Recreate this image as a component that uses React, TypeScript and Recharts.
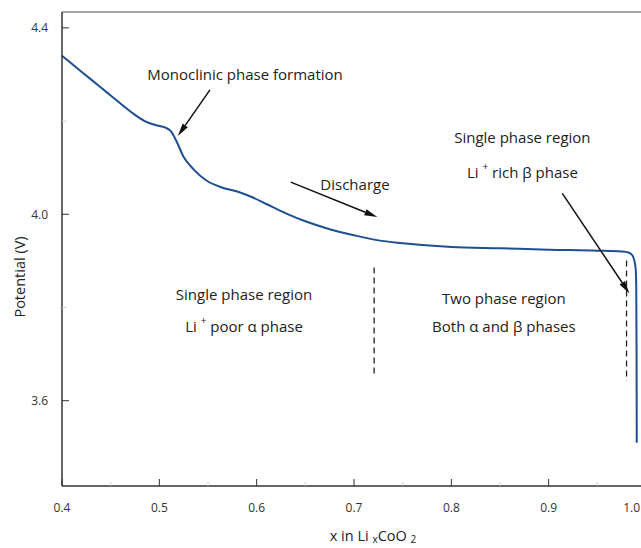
import { LineChart, Line, XAxis, YAxis, ReferenceLine, ReferenceDot } from 'recharts';

// x in LixCoO2 and measured potential (V)
const xValues = [
  0.4, 0.42, 0.44, 0.45, 0.47, 0.485, 0.495, 0.505, 0.512, 0.518, 0.525, 0.535, 0.548,
  0.565, 0.58, 0.595, 0.61, 0.63, 0.65, 0.675, 0.7, 0.725, 0.75, 0.8, 0.85, 0.9, 0.95,
  0.975, 0.982, 0.986, 0.988, 0.9895, 0.99, 0.9903, 0.9905,
];
const potential = [
  4.34, 4.306, 4.272, 4.255, 4.221, 4.2, 4.192, 4.187, 4.178, 4.155, 4.123, 4.097, 4.073,
  4.057, 4.049, 4.037, 4.022, 4.002, 3.985, 3.968, 3.955, 3.944, 3.938, 3.93, 3.927, 3.924, 3.922,
  3.92, 3.918, 3.912, 3.901, 3.88, 3.837, 3.708, 3.51,
];

const xMajor = [0.4, 0.5, 0.6, 0.7, 0.8, 0.9, 1.0];
const xMinor = [0.45, 0.55, 0.65, 0.75, 0.85, 0.95];
const yMajor = [3.6, 4.0, 4.4];
const yMinor = [3.8, 4.2];

const curve = xValues.map((x, i) => ({ x, v: potential[i] }));

const FONT = '"Open Sans", sans-serif';
const yDomain: [number, number] = [3.417, 4.434];

function XTick(props: any) {
  const { x, y, payload } = props;
  const v = payload.value;
  const major = xMajor.includes(v);
  const last = v === xMajor[xMajor.length - 1];
  return (
    <g>
      <line x1={x} x2={x} y1={y} y2={y - (major ? 7 : 4)} stroke={major ? '#333' : '#ccc'} />
      {major && (
        <text x={last ? x - 6 : x} y={y + 21} textAnchor={last ? 'end' : 'middle'} dominantBaseline="central"
          fontFamily={FONT} fontSize={12} fill="#333">
          {v.toFixed(1)}
        </text>
      )}
    </g>
  );
}

function YTick(props: any) {
  const { x, y, payload } = props;
  const v = payload.value;
  const major = yMajor.includes(v);
  return (
    <g>
      <line x1={x} x2={x + (major ? 7 : 4)} y1={y} y2={y} stroke={major ? '#333' : '#ccc'} />
      {major && (
        <text x={x - 14} y={y} textAnchor="end" dominantBaseline="central" fontFamily={FONT} fontSize={12} fill="#333">
          {v.toFixed(1)}
        </text>
      )}
    </g>
  );
}

function Arrow(props: any) {
  const { x1, y1, x2, y2 } = props;
  const ang = Math.atan2(y2 - y1, x2 - x1);
  const L = 13;
  const W = 3.2;
  const bx = x2 - L * Math.cos(ang);
  const by = y2 - L * Math.sin(ang);
  const nx = -Math.sin(ang) * W;
  const ny = Math.cos(ang) * W;
  return (
    <g>
      <line x1={x1} y1={y1} x2={bx} y2={by} stroke="#111" strokeWidth={1.5} />
      <polygon points={`${x2},${y2} ${bx + nx},${by + ny} ${bx - nx},${by - ny}`} fill="#111" />
    </g>
  );
}

const sup = (s: string) => (
  <>
    <tspan dy={-6} fontSize={10}>{s}</tspan>
    <tspan dy={6}> </tspan>
  </>
);

const note = (content: any) => (p: any) => (
  <text x={p.cx} y={p.cy} textAnchor="middle" dominantBaseline="central" fontFamily={FONT} fontSize={15} fill="#222">
    {content}
  </text>
);

const dashed = { stroke: '#222', strokeWidth: 1.3, strokeDasharray: '6 4' };

export default function App() {
  return (
    <div style={{ position: 'fixed', top: 0, left: 0, width: 641, height: 548, overflow: 'hidden', background: '#fff' }}>
      <LineChart width={660} height={548} data={curve} margin={{ top: 12, right: 14, bottom: 0, left: 0 }}>
        <XAxis
          dataKey="x"
          type="number"
          domain={[0.4, 1.0]}
          ticks={[...xMajor, ...xMinor].sort((a, b) => a - b)}
          interval={0}
          tick={<XTick />}
          tickLine={false}
          tickSize={0}
          tickMargin={0}
          height={62}
          axisLine={{ stroke: '#333', strokeWidth: 1.5 }}
          label={{
            content: (p: any) => {
              const vb = p.viewBox;
              return (
                <text x={vb.x + vb.width / 2 + 19} y={vb.y + 49} textAnchor="middle" dominantBaseline="central"
                  fontFamily={FONT} fontSize={14.5} fill="#222">
                  x in Li <tspan dy={4} fontSize={10}>x</tspan><tspan dy={-4}>CoO </tspan><tspan dy={4} fontSize={10}>2</tspan>
                </text>
              );
            },
          }}
        />
        <YAxis
          type="number"
          domain={yDomain}
          ticks={[...yMajor, ...yMinor].sort((a, b) => a - b)}
          interval={0}
          tick={<YTick />}
          tickLine={false}
          tickSize={0}
          tickMargin={0}
          width={62}
          axisLine={{ stroke: '#333', strokeWidth: 1.5 }}
          label={{
            content: (p: any) => {
              const vb = p.viewBox;
              const cx = 19;
              const cy = vb.y + vb.height / 2 + 28;
              return (
                <text x={cx} y={cy} transform={`rotate(-90 ${cx} ${cy})`} textAnchor="middle" dominantBaseline="central"
                  fontFamily={FONT} fontSize={14.5} fill="#222">
                  Potential (V)
                </text>
              );
            },
          }}
        />
        <ReferenceLine y={yDomain[1]} stroke="#888" strokeWidth={1.5} ifOverflow="visible" />

        <ReferenceLine segment={[{ x: 0.7207, y: 3.886 }, { x: 0.7207, y: 3.658 }]} {...dashed} ifOverflow="visible" />
        <ReferenceLine segment={[{ x: 0.98, y: 3.901 }, { x: 0.98, y: 3.643 }]} {...dashed} ifOverflow="visible" />

        <Line type="monotone" dataKey="v" stroke="#1d4f91" strokeWidth={2} dot={false} isAnimationActive={false} />

        <ReferenceLine segment={[{ x: 0.552, y: 4.267 }, { x: 0.519, y: 4.168 }]} shape={Arrow} ifOverflow="visible" />
        <ReferenceLine segment={[{ x: 0.635, y: 4.069 }, { x: 0.724, y: 3.994 }]} shape={Arrow} ifOverflow="visible" />
        <ReferenceLine segment={[{ x: 0.914, y: 4.045 }, { x: 0.983, y: 3.83 }]} shape={Arrow} ifOverflow="visible" />

        <ReferenceDot x={0.588} y={4.301} r={0} shape={note('Monoclinic phase formation')} />
        <ReferenceDot x={0.701} y={4.064} r={0} shape={note('Discharge')} />
        <ReferenceDot x={0.873} y={4.166} r={0} shape={note('Single phase region')} />
        <ReferenceDot x={0.873} y={4.09} r={0} shape={note(<>Li {sup('+')}rich  β phase</>)} />
        <ReferenceDot x={0.587} y={3.83} r={0} shape={note('Single phase region')} />
        <ReferenceDot x={0.587} y={3.761} r={0} shape={note(<>Li {sup('+')}poor α phase</>)} />
        <ReferenceDot x={0.854} y={3.821} r={0} shape={note('Two phase region')} />
        <ReferenceDot x={0.854} y={3.761} r={0} shape={note('Both α and β phases')} />
      </LineChart>
    </div>
  );
}
